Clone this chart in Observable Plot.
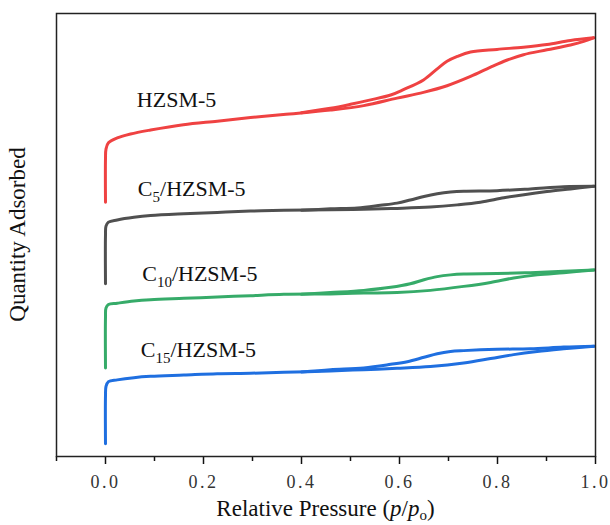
<!DOCTYPE html>
<html>
<head>
<meta charset="utf-8">
<script src="https://cdn.jsdelivr.net/npm/d3@7"></script>
<script src="https://cdn.jsdelivr.net/npm/@observablehq/plot@0.6"></script>
<style>
  body { margin: 0; background: #fff; }
  #chart svg { display: block; }
</style>
</head>
<body>
<div id="chart"></div>
<script>
// N2 adsorption–desorption isotherms, curves offset vertically (arbitrary units)
const samples = ["HZSM-5", "C5/HZSM-5", "C10/HZSM-5", "C15/HZSM-5"];
const sampleColors = ["#ef4242", "#505050", "#36ab69", "#1f6fe0"];

// HZSM-5
const hzsmAdsP = [0, 0, 0.001, 0.006, 0.024, 0.051, 0.092, 0.159, 0.228, 0.296, 0.363, 0.459, 0.527, 0.595, 0.649, 0.697, 0.745, 0.786, 0.820, 0.853, 0.901, 0.949, 0.976, 0.996];
const hzsmAdsQ = [57.4, 67.2, 69.4, 70.8, 71.9, 72.8, 73.7, 74.9, 75.7, 76.5, 77.2, 78.2, 79.2, 80.9, 82.2, 83.7, 85.8, 87.9, 89.5, 90.7, 91.8, 92.9, 93.7, 94.5];
const hzsmDesP = [0.996, 0.949, 0.901, 0.853, 0.799, 0.745, 0.718, 0.697, 0.677, 0.649, 0.608, 0.582, 0.541, 0.500, 0.459, 0.400];
const hzsmDesQ = [94.5, 93.9, 93.0, 92.4, 91.9, 91.3, 90.3, 89.2, 87.5, 85.0, 82.8, 81.6, 80.5, 79.5, 78.6, 77.6];

// C5/HZSM-5
const c5AdsP = [0, 0, 0.001, 0.006, 0.024, 0.058, 0.092, 0.160, 0.228, 0.296, 0.364, 0.459, 0.527, 0.595, 0.663, 0.718, 0.765, 0.813, 0.854, 0.901, 0.949, 0.997];
const c5AdsQ = [39.0, 50.0, 52.0, 52.9, 53.4, 54.0, 54.4, 54.8, 55.1, 55.4, 55.6, 55.7, 55.8, 56.0, 56.3, 56.8, 57.4, 58.4, 59.1, 59.8, 60.4, 61.0];
const c5DesP = [0.997, 0.935, 0.867, 0.799, 0.731, 0.704, 0.677, 0.650, 0.622, 0.595, 0.561, 0.514, 0.459, 0.400];
const c5DesQ = [61.0, 60.9, 60.4, 60.0, 59.9, 59.7, 59.3, 58.7, 57.9, 57.2, 56.7, 56.1, 55.9, 55.6];

// C10/HZSM-5
const c10AdsP = [0, 0, 0.001, 0.006, 0.024, 0.058, 0.092, 0.160, 0.228, 0.296, 0.364, 0.459, 0.527, 0.595, 0.663, 0.731, 0.786, 0.833, 0.881, 0.935, 0.997];
const c10AdsQ = [20.0, 31.5, 33.5, 34.3, 34.6, 35.1, 35.4, 35.7, 36.0, 36.3, 36.6, 36.7, 36.9, 37.0, 37.5, 38.4, 39.3, 40.3, 41.0, 41.5, 42.1];
const c10DesP = [0.997, 0.935, 0.867, 0.799, 0.731, 0.704, 0.677, 0.650, 0.622, 0.582, 0.527, 0.459, 0.400];
const c10DesQ = [42.1, 41.8, 41.5, 41.3, 41.2, 41.0, 40.6, 39.9, 39.0, 38.2, 37.5, 37.0, 36.6];

// C15/HZSM-5
const c15AdsP = [0, 0, 0.001, 0.006, 0.024, 0.058, 0.092, 0.160, 0.228, 0.296, 0.364, 0.459, 0.527, 0.595, 0.663, 0.731, 0.786, 0.833, 0.881, 0.935, 0.997];
const c15AdsQ = [2.9, 13.8, 15.8, 16.9, 17.3, 17.8, 18.1, 18.4, 18.7, 18.8, 19.0, 19.3, 19.6, 19.9, 20.3, 21.1, 22.1, 23.0, 23.7, 24.3, 24.9];
const c15DesP = [0.997, 0.935, 0.867, 0.799, 0.731, 0.704, 0.677, 0.650, 0.616, 0.582, 0.527, 0.459, 0.400];
const c15DesQ = [24.9, 24.7, 24.3, 24.2, 23.9, 23.7, 23.2, 22.4, 21.4, 20.8, 20.0, 19.6, 19.1];

const majorTicks = [0, 0.2, 0.4, 0.6, 0.8, 1.0];
const minorTicks = [-0.1, 0.1, 0.3, 0.5, 0.7, 0.9];

// Curve labels: [text, subscript, rest]
const labelParts = [["HZSM-5", "", ""], ["C", "5", "/HZSM-5"], ["C", "10", "/HZSM-5"], ["C", "15", "/HZSM-5"]];

const branches = [
  [samples[0], hzsmAdsP, hzsmAdsQ, hzsmDesP, hzsmDesQ],
  [samples[1], c5AdsP, c5AdsQ, c5DesP, c5DesQ],
  [samples[2], c10AdsP, c10AdsQ, c10DesP, c10DesQ],
  [samples[3], c15AdsP, c15AdsQ, c15DesP, c15DesQ]
];

const rows = [];
for (const [sample, ap, aq, dp, dq] of branches) {
  ap.forEach((p, i) => rows.push({sample, branch: sample + " ads", p, q: aq[i]}));
  dp.forEach((p, i) => rows.push({sample, branch: sample + " des", p, q: dq[i]}));
}

const serif = "Liberation Serif, Times New Roman, serif";

const chart = Plot.plot({
  width: 610,
  height: 525,
  marginLeft: 56,
  marginRight: 15,
  marginTop: 13,
  marginBottom: 69,
  style: {fontFamily: serif, color: "#111", background: "#fff"},
  x: {domain: [-0.1, 1.0], axis: null},
  y: {domain: [0, 100], axis: null},
  color: {domain: samples, range: sampleColors},
  marks: [
    Plot.line(rows, {
      x: "p", y: "q", z: "branch", stroke: "sample",
      strokeWidth: 3, curve: "catmull-rom", strokeLinejoin: "round", strokeLinecap: "round"
    }),
    Plot.axisX(minorTicks, {tickSize: 5, fill: "none", label: null, strokeWidth: 1.5, stroke: "#111"}),
    Plot.axisX(majorTicks, {
      tickSize: 8, tickPadding: 11, label: null, strokeWidth: 1.5, stroke: "#111",
      fontSize: 18, tickFormat: d => d.toFixed(1)
    }),
    Plot.frame({stroke: "#222", strokeWidth: 1.5})
  ]
});

document.getElementById("chart").appendChild(chart);

const svg = d3.select(chart);
svg.selectAll("g[aria-label='x-axis tick label'] text")
  .attr("letter-spacing", "2.5px")
  .attr("font-family", serif)
  .attr("fill", "#333");

const xs = chart.scale("x"), ys = chart.scale("y");
const labelAt = [[0.065, 78.8], [0.067, 58.7], [0.076, 39.5], [0.073, 22.4]];
labelParts.forEach(([a, sub, rest], i) => {
  const t = svg.append("text")
    .attr("x", xs.apply(labelAt[i][0]))
    .attr("y", ys.apply(labelAt[i][1]))
    .attr("text-anchor", "start")
    .attr("font-family", serif)
    .attr("font-size", 22)
    .attr("fill", "#111");
  t.append("tspan").text(a);
  if (sub) {
    t.append("tspan").attr("font-size", 15).attr("dy", 6).text(sub);
    t.append("tspan").attr("dy", -6).text(rest);
  }
});

// Axis titles
const [x0, x1] = xs.range;
const xt = svg.append("text")
  .attr("x", (x0 + x1) / 2)
  .attr("y", 516)
  .attr("text-anchor", "middle")
  .attr("font-family", serif)
  .attr("font-size", 23)
  .attr("fill", "#111");
xt.append("tspan").text("Relative Pressure (");
xt.append("tspan").attr("font-style", "italic").text("p");
xt.append("tspan").text("/");
xt.append("tspan").attr("font-style", "italic").text("p");
xt.append("tspan").attr("font-size", 15).attr("dy", 4).text("o");
xt.append("tspan").attr("dy", -4).text(")");

const [y0, y1] = ys.range;
svg.append("text")
  .attr("transform", `translate(25,${(y0 + y1) / 2}) rotate(-90)`)
  .attr("text-anchor", "middle")
  .attr("font-family", serif)
  .attr("font-size", 23)
  .attr("fill", "#111")
  .text("Quantity Adsorbed");
</script>
</body>
</html>
